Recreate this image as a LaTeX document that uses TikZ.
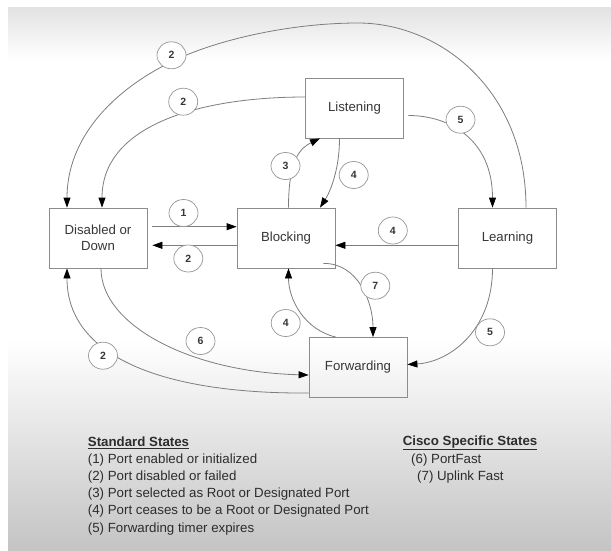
\documentclass[tikz,border=0pt]{standalone}
\usepackage{fontspec}
\setmainfont{Liberation Sans}
\usetikzlibrary{arrows.meta,calc,shapes.geometric}
\definecolor{linegray}{RGB}{125,125,125}
\definecolor{boxgray}{RGB}{140,140,140}
\definecolor{circgray}{RGB}{150,150,150}
\definecolor{txtgray}{RGB}{55,55,55}
\definecolor{leggray}{RGB}{45,45,45}
\definecolor{topgray}{RGB}{226,226,226}
\definecolor{botgray}{RGB}{196,196,196}
\begin{document}
\begin{tikzpicture}[x=1pt,y=-1pt,
  box/.style={draw=boxgray,line width=0.8pt,minimum width=98pt,minimum height=60pt,inner sep=0pt,
    align=center,text=txtgray,font=\fontsize{13.2}{15.7}\selectfont},
  lab/.style={ellipse,draw=circgray,line width=0.7pt,fill=white,minimum width=29pt,minimum height=27pt,
    inner sep=0pt,text=txtgray,font=\bfseries\fontsize{10.5}{12}\selectfont},
  arr/.style={draw=linegray,line width=0.8pt,-{Triangle[length=10pt,width=7pt,color=black]}},
  leg/.style={anchor=west,inner sep=0pt,text=leggray,font=\fontsize{13.3}{16}\selectfont}]
\useasboundingbox (0,0) rectangle (611,550);
\fill[white] (0,0) rectangle (611,550);
\shade[top color=topgray,bottom color=white] (8,7) rectangle (611,60);
\shade[top color=white,bottom color=botgray] (8,340) rectangle (611,550);

% state boxes
\node[box] (dis) at (98,238) {Disabled or\\Down};
\node[box] (blk) at (286,238) {Blocking};
\node[box] (lis) at (354.5,108) {Listening};
\node[box] (lrn) at (507.5,238) {Learning};
\node[box] (fwd) at (358,367.5) {Forwarding};
\coordinate (topc) at (358,23);
\coordinate (midc) at (171,62);

% connectors
\draw[arr] ($(lrn.north)+(18.5,0)$) .. controls (526,90) and (440,23) .. (topc)
  .. controls (290,23) and (215,40) .. (midc)
  .. controls (110,92) and (67,140) .. ($(dis.north)+(-31,0)$);
\draw[arr] ($(lis.west)+(0,-11)$) .. controls (200,97) and (102,125) .. ($(dis.north)+(4,0)$);
\draw[arr] ($(lis.east)+(4.5,7.5)$) .. controls (450,115.5) and (492.5,140) .. ($(lrn.north)+(-15,0)$);
\draw[arr] ($(blk.north)+(2.5,0)$) .. controls (288.5,160) and (300,148) .. ($(lis.south)+(-34.5,0)$);
\draw[arr] ($(lis.south)+(-15,0)$) .. controls (339.5,170) and (330,192) .. ($(blk.north)+(34,0)$);
\draw[arr] ($(dis.east)+(5,-11.3)$) -- ($(blk.west)+(0,-11.3)$);
\draw[arr] ($(blk.west)+(0,7.3)$) -- ($(dis.east)+(5,7.3)$);
\draw[arr] ($(lrn.west)+(0,7.3)$) -- ($(blk.east)+(0,7.3)$);
\draw[arr] ($(blk.south east)+(-12,-5)$) .. controls (358,263) and (373,302) .. ($(fwd.north)+(15,0)$);
\draw[arr] ($(fwd.north)+(-22,0)$) .. controls (305,330) and (288.5,300) .. ($(blk.south)+(2.5,0)$);
\draw[arr] ($(dis.south)+(3,0)$) .. controls (101,325) and (190,372) .. ($(fwd.west)+(0,7.5)$);
\draw[arr] ($(fwd.west)+(0,25.5)$) .. controls (170,394) and (67,360) .. ($(dis.south)+(-31,0)$);
\draw[arr] ($(lrn.south)+(-15,0)$) .. controls (492.5,330) and (450,362) .. ($(fwd.east)+(0,-3)$);

% number labels
\node[lab] (n2a) at (171.5,55.3) {2};
\node[lab] (n2b) at (183.2,101.7) {2};
\node[lab] (n5a) at (460.5,119.7) {5};
\node[lab] (n3) at (285.5,166) {3};
\node[lab] (n4a) at (353.7,175) {4};
\node[lab] (n1) at (183.5,213) {1};
\node[lab] (n2c) at (188.3,258.5) {2};
\node[lab] (n4b) at (392.8,230.5) {4};
\node[lab] (n7) at (375.3,285.7) {7};
\node[lab] (n4c) at (285.7,323) {4};
\node[lab] (n6) at (200.5,341) {6};
\node[lab] (n2d) at (103,355.7) {2};
\node[lab] (n5b) at (490,332.3) {5};

% legend
\node[leg] (leg0) at (87.7,442.7) {\textbf{\underline{Standard States}}};
\node[leg] (leg1) at (87.7,459.9) {(1) Port enabled or initialized};
\node[leg] (leg2) at (87.7,477.1) {(2) Port disabled or failed};
\node[leg] (leg3) at (87.7,494.3) {(3) Port selected as Root or Designated Port};
\node[leg] (leg4) at (87.7,511.5) {(4) Port ceases to be a Root or Designated Port};
\node[leg] (leg5) at (87.7,528.7) {(5) Forwarding timer expires};
\node[leg] (cis0) at (402.6,442.7) {\textbf{\underline{Cisco Specific States}}};
\node[leg] (cis1) at (411,459.9) {(6) PortFast};
\node[leg] (cis2) at (417,477.1) {(7) Uplink Fast};
\end{tikzpicture}
\end{document}
